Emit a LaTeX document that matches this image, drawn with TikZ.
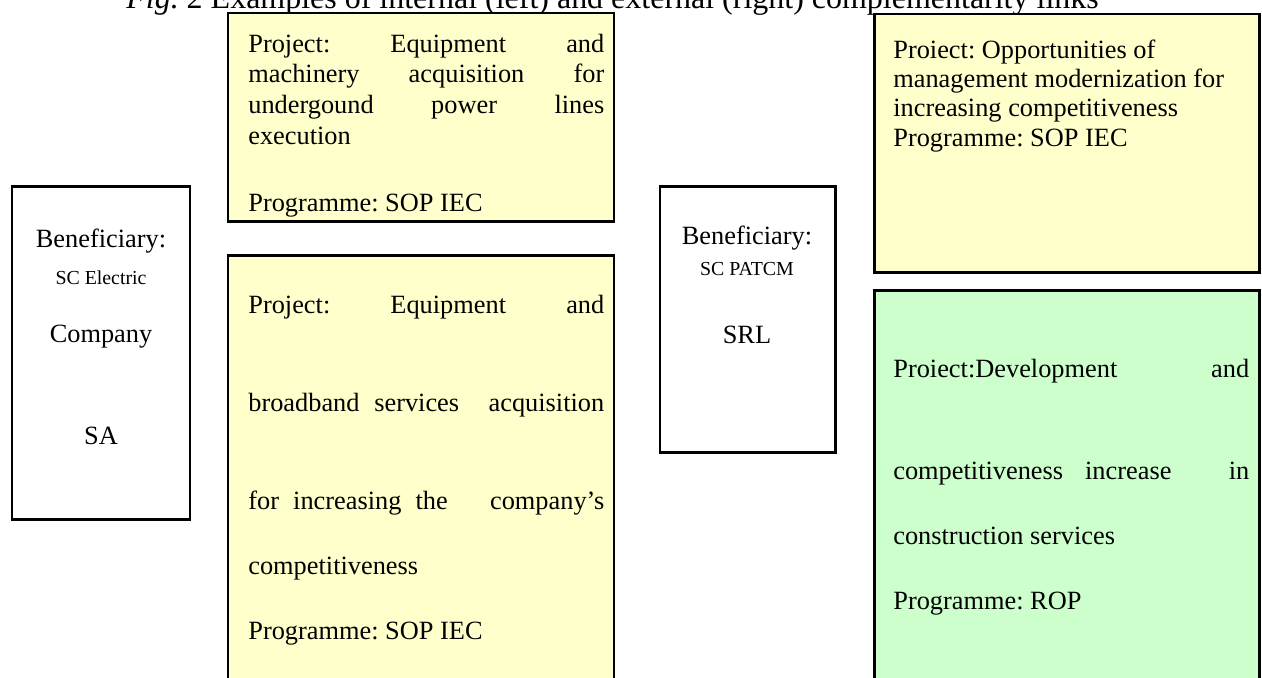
\documentclass[tikz,border=0pt]{standalone}
\usepackage{fontspec}
\setmainfont{Liberation Serif}
\usetikzlibrary{fit}
\definecolor{yellowfill}{RGB}{255,255,204}
\definecolor{greenfill}{RGB}{204,255,204}
\newcommand{\jline}[1]{{\spaceskip=0pt\xspaceskip=0pt\makebox[\hsize][s]{#1}}}
\hbadness=10000
\begin{document}
\begin{tikzpicture}[x=0.02cm, y=-0.02cm,
    frame/.style={draw=black, line width=1.7pt, inner sep=0pt},
    yellowbox/.style={frame, fill=yellowfill},
    greenbox/.style={frame, fill=greenfill},
    bodytext/.style={anchor=base west, inner sep=0pt, align=flush left, text width=7.12cm,
        font=\fontsize{15pt}{5.8mm}\selectfont\frenchspacing},
    bentext/.style={anchor=base, inner sep=0pt, align=flush center, text width=3.4cm,
        font=\fontsize{15pt}{5.8mm}\selectfont\frenchspacing}]
    \def\smallfont{\fontsize{11.3pt}{5.8mm}\selectfont}
    \useasboundingbox (0,0) rectangle (1262,677);
    % Titel
    \node[anchor=base west, inner sep=0pt, font=\fontsize{18.2pt}{21pt}\selectfont\frenchspacing] (title) at (126,8)
        {\textit{Fig.} 2 Examples of internal (left) and external (right) complementarity links};
    % Kaesten links
    \node[frame, fit={(12,186) (190,519)}] (benA) {};
    \node[yellowbox, fit={(228,13) (614,221)}] (projA) {};
    \node[yellowbox, fit={(228,255) (614,720)}] (projB) {};
    % Kaesten rechts
    \node[frame, fit={(660,186) (835,452)}] (benB) {};
    \node[yellowbox, fit={(874,14) (1259,272)}] (projC) {};
    \node[greenbox, fit={(874,290) (1259,720)}] (projD) {};
    % Beguenstigte
    \node[bentext] (benAtext) at (101,247)
        {Beneficiary:\\[1.8mm] {\smallfont SC Electric}\\[5.8mm] Company\\[14.6mm] SA};
    \node[bentext] (benBtext) at (747,244)
        {Beneficiary:\\[0.4mm] {\smallfont SC PATCM}\\[8mm] SRL};
    % Projekte
    \node[bodytext, font=\fontsize{15pt}{6.16mm}\selectfont\frenchspacing] (projAtext) at (248,52)
        {\jline{Project: Equipment and}\\
         \jline{machinery acquisition for}\\
         \jline{undergound power lines}\\
         execution\\[7.3mm]
         Programme: SOP IEC};
    \node[bodytext] (projBtext) at (248,313)
        {\jline{Project: Equipment and}\\[14mm]
         \jline{broadband services\ \ acquisition}\\[13.8mm]
         \jline{for increasing the\ \ \ company's}\\[7.2mm]
         competitiveness\\[7.2mm]
         Programme: SOP IEC};
    \node[bodytext, font=\fontsize{15pt}{5.9mm}\selectfont\frenchspacing] (projCtext) at (893,58)
        {Proiect: Opportunities of\\
         management modernization for\\
         increasing competitiveness\\
         Programme: SOP IEC};
    \node[bodytext] (projDtext) at (893,377)
        {\jline{Proiect:Development and}\\[14.8mm]
         \jline{competitiveness\hspace{4.4mm}increase\hfill in}\\[7.2mm]
         construction services\\[7.2mm]
         Programme: ROP};
\end{tikzpicture}
\end{document}
